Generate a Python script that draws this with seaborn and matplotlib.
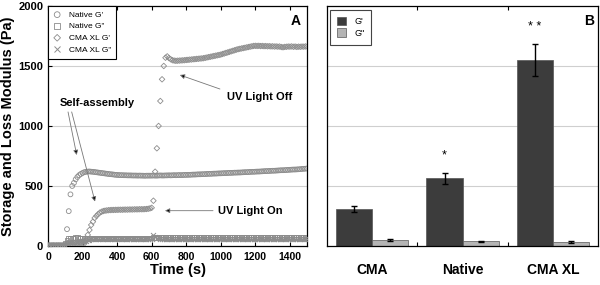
import numpy as np
import pandas as pd
import matplotlib
matplotlib.use("Agg")
import matplotlib.pyplot as plt
import seaborn as sns

# ---- Panel A: time sweep, sampled every 10 s ----
time_s = np.arange(0, 1501, 10)

native_gp = [
    5, 5, 5, 6, 5, 5, 6, 5, 5, 6,
    8, 140, 290, 430, 500, 525, 555, 575, 590, 600,
    608, 615, 618, 620, 621, 619, 618, 616, 614, 612,
    610, 608, 606, 604, 602, 600, 598, 597, 595, 593,
    592, 591, 590, 590, 589, 589, 588, 588, 588, 587,
    587, 587, 586, 587, 586, 586, 585, 586, 586, 586,
    586, 587, 586, 586, 587, 588, 587, 587, 588, 588,
    589, 588, 589, 590, 589, 590, 591, 590, 591, 592,
    592, 593, 593, 594, 595, 595, 596, 597, 597, 598,
    598, 599, 600, 601, 601, 602, 603, 603, 604, 605,
    605, 606, 607, 607, 608, 609, 609, 610, 611, 611,
    612, 612, 613, 614, 615, 615, 616, 617, 618, 618,
    619, 620, 620, 621, 622, 623, 624, 624, 625, 626,
    627, 627, 628, 629, 630, 631, 631, 632, 633, 634,
    635, 636, 637, 637, 638, 639, 640, 642, 643, 644,
    646,
]

native_gpp = [
    4, 3, 4, 3, 4, 3, 4, 3, 4, 3,
    20, 45, 60, 64, 66, 67, 68, 68, 67, 67,
    66, 67, 66, 65, 66, 67, 66, 65, 66, 66,
    65, 66, 67, 66, 65, 66, 65, 66, 67, 66,
    66, 65, 66, 67, 66, 65, 66, 66, 67, 66,
    65, 66, 67, 66, 66, 65, 66, 67, 66, 66,
    67, 68, 67, 68, 69, 68, 69, 70, 69, 70,
    70, 71, 70, 69, 70, 71, 72, 71, 70, 71,
    72, 71, 70, 71, 72, 73, 72, 71, 72, 73,
    72, 71, 72, 73, 72, 73, 74, 73, 72, 73,
    72, 73, 74, 73, 72, 73, 72, 73, 74, 73,
    72, 73, 74, 73, 72, 71, 72, 73, 72, 71,
    72, 73, 72, 71, 72, 73, 72, 71, 72, 71,
    72, 71, 72, 73, 72, 71, 70, 71, 72, 71,
    70, 71, 72, 71, 70, 71, 72, 71, 70, 71,
    71,
]

cmaxl_gp = [
    3, 4, 3, 4, 3, 4, 3, 4, 3, 4,
    6, 10, 12, 13, 14, 14, 15, 15, 16, 16,
    17, 20, 50, 92, 133, 175, 202, 233, 250, 265,
    278, 285, 291, 294, 296, 298, 299, 300, 300, 301,
    301, 302, 302, 302, 303, 303, 303, 304, 304, 304,
    305, 305, 305, 306, 306, 306, 307, 308, 310, 313,
    318, 377, 619, 814, 1000, 1208, 1389, 1500, 1569, 1580,
    1566, 1556, 1548, 1545, 1543, 1544, 1545, 1546, 1547, 1548,
    1550, 1551, 1553, 1554, 1556, 1557, 1559, 1560, 1562, 1563,
    1565, 1568, 1571, 1574, 1577, 1580, 1583, 1586, 1589, 1592,
    1595, 1600, 1604, 1609, 1613, 1618, 1622, 1627, 1631, 1636,
    1640, 1643, 1646, 1649, 1652, 1655, 1658, 1661, 1664, 1667,
    1668, 1667, 1668, 1666, 1667, 1665, 1666, 1664, 1665, 1663,
    1664, 1662, 1663, 1661, 1662, 1658, 1656, 1659, 1660, 1662,
    1661, 1663, 1660, 1662, 1659, 1661, 1660, 1662, 1661, 1663,
    1662,
]

cmaxl_gpp = [
    1, 2, 1, 2, 1, 2, 1, 2, 1, 2,
    8, 22, 30, 33, 35, 36, 37, 37, 38, 38,
    38, 40, 44, 48, 52, 55, 57, 58, 58, 58,
    57, 58, 57, 56, 57, 58, 57, 56, 57, 56,
    57, 56, 57, 58, 57, 56, 57, 56, 57, 58,
    57, 56, 57, 58, 57, 56, 57, 58, 59, 60,
    62, 90, 78, 70, 65, 62, 60, 58, 57, 56,
    55, 56, 55, 54, 55, 56, 55, 54, 55, 56,
    55, 56, 57, 56, 55, 56, 57, 58, 57, 56,
    57, 58, 57, 56, 57, 58, 57, 58, 59, 58,
    57, 58, 59, 58, 57, 58, 59, 58, 57, 58,
    59, 58, 57, 58, 59, 58, 57, 58, 57, 58,
    57, 58, 57, 56, 57, 58, 57, 56, 57, 58,
    57, 56, 57, 58, 57, 56, 57, 58, 57, 56,
    57, 58, 57, 56, 57, 58, 57, 56, 57, 58,
    57,
]

series_labels = ["Native G'", 'Native G"', "CMA XL G'", 'CMA XL G"']
series_markers = ["o", "s", "D", "x"]

# ---- Panel B: bar summary ----
groups = ["CMA", "Native", "CMA XL"]
gp_mean = [310, 565, 1550]
gp_err = [25, 47, 133]
gpp_mean = [50, 40, 32]
gpp_err = [6, 5, 10]
stars = ["", "*", "* *"]

sns.set_style("ticks")
plt.rcParams["font.family"] = ["Liberation Sans", "DejaVu Sans"]
plt.rcParams["text.color"] = "black"
plt.rcParams["axes.labelcolor"] = "black"
plt.rcParams["xtick.color"] = "black"
plt.rcParams["ytick.color"] = "black"

fig = plt.figure(figsize=(6.0, 2.85), dpi=100)
ax_a = fig.add_axes([0.08, 0.137, 0.432, 0.842])
ax_b = fig.add_axes([0.545, 0.137, 0.452, 0.842])

grey = "#8c8c8c"

# Panel A
for label, marker, vals in zip(series_labels, series_markers,
                               [native_gp, native_gpp, cmaxl_gp, cmaxl_gpp]):
    df = pd.DataFrame({"time": time_s, "mod": vals})
    if marker == "x":
        sns.scatterplot(data=df, x="time", y="mod", ax=ax_a, marker=marker,
                        color=grey, s=13, linewidth=0.7, label=label, zorder=3)
    else:
        ms = 8 if marker == "D" else 12
        sns.scatterplot(data=df, x="time", y="mod", ax=ax_a, marker=marker,
                        facecolor="none", edgecolor=grey, s=ms, linewidth=0.6,
                        label=label, zorder=3)

ax_a.set_xlim(0, 1500)
ax_a.set_ylim(0, 2000)
ax_a.set_xticks(range(0, 1401, 200))
ax_a.set_yticks([0, 500, 1000, 1500, 2000])
for yv in [500, 1000, 1500]:
    ax_a.axhline(yv, color="#cfcfcf", lw=0.8, zorder=0)
ax_a.tick_params(direction="in", top=True, right=False, length=3, width=0.8)
ax_a.tick_params(axis="x", labelsize=7.5, pad=4)
ax_a.tick_params(axis="y", labelsize=8)
for t in ax_a.get_xticklabels() + ax_a.get_yticklabels():
    t.set_fontweight("bold")
ax_a.set_xlabel("Time (s)", fontsize=10.5, fontweight="bold", labelpad=1)
ax_a.set_ylabel("Storage and Loss Modulus (Pa)", fontsize=10.5,
                fontweight="bold", labelpad=2)
for sp in ax_a.spines.values():
    sp.set_color("black")
    sp.set_linewidth(0.9)

leg = ax_a.legend(loc="upper left", bbox_to_anchor=(0, 1), borderaxespad=0,
                  fontsize=6, frameon=True, fancybox=False, framealpha=1,
                  edgecolor="black", handlelength=1.0, handletextpad=0.9,
                  borderpad=0.6, labelspacing=0.45, markerscale=1.2)
leg.get_frame().set_linewidth(0.8)

ax_a.text(0.975, 0.965, "A", transform=ax_a.transAxes, ha="right", va="top",
          fontsize=10, fontweight="bold")

arrow_kw = dict(arrowstyle="-|>", ec="#777777", fc="black", lw=0.6,
                mutation_scale=7, shrinkA=0, shrinkB=0)
ax_a.text(283, 1190, "Self-assembly", ha="center", va="center", fontsize=8,
          fontweight="bold")
ax_a.annotate("", xy=(166, 758), xytext=(116, 1117), arrowprops=arrow_kw)
ax_a.annotate("", xy=(272, 370), xytext=(137, 1117), arrowprops=arrow_kw)
ax_a.text(1226, 1241, "UV Light Off", ha="center", va="center", fontsize=8,
          fontweight="bold")
ax_a.annotate("", xy=(763, 1425), xytext=(995, 1308), arrowprops=arrow_kw)
ax_a.text(983, 294, "UV Light On", ha="left", va="center", fontsize=8,
          fontweight="bold")
ax_a.annotate("", xy=(677, 294), xytext=(955, 294), arrowprops=arrow_kw)

# Panel B
bar_df = pd.DataFrame({
    "group": groups * 2,
    "modulus": ["G'"] * 3 + ['G"'] * 3,
    "value": gp_mean + gpp_mean,
})
sns.barplot(data=bar_df, x="group", y="value", hue="modulus", ax=ax_b,
            palette=["#3c3c3c", "#b4b4b4"], width=0.8, errorbar=None,
            edgecolor="#555555", linewidth=0.5, zorder=2)

for cont, errs in zip(ax_b.containers, [gp_err, gpp_err]):
    for bar, err in zip(cont, errs):
        ax_b.errorbar(bar.get_x() + bar.get_width() / 2, bar.get_height(),
                      yerr=err, fmt="none", ecolor="black", elinewidth=1,
                      capsize=2.5, capthick=1, zorder=4)
for bar, err, s in zip(ax_b.containers[0], gp_err, stars):
    if s:
        ax_b.text(bar.get_x() + bar.get_width() / 2,
                  bar.get_height() + err + 90, s, ha="center", va="bottom",
                  fontsize=9)

ax_b.set_ylim(0, 2000)
ax_b.set_xlim(-0.5, 2.5)
ax_b.set_yticks([500, 1000, 1500])
ax_b.set_yticklabels([])
ax_b.tick_params(axis="y", length=0)
for yv in [500, 1000, 1500]:
    ax_b.axhline(yv, color="#cfcfcf", lw=0.8, zorder=0)
ax_b.set_xticks([0, 1, 2])
ax_b.set_xticklabels(groups, fontsize=10, fontweight="bold")
ax_b.set_xticks([0.5, 1.5], minor=True)
ax_b.tick_params(axis="x", which="major", length=0, pad=12)
ax_b.tick_params(axis="x", which="minor", direction="in", top=True,
                 length=3, width=0.8)
ax_b.set_xlabel("")
ax_b.set_ylabel("")
for sp in ax_b.spines.values():
    sp.set_visible(True)
    sp.set_color("black")
    sp.set_linewidth(0.9)

leg_b = ax_b.legend(loc="upper left", bbox_to_anchor=(0.01, 0.985),
                    borderaxespad=0, fontsize=6.5, frameon=True, fancybox=False,
                    framealpha=1, edgecolor="#444444", handlelength=1.0,
                    handleheight=1.1, handletextpad=0.9, borderpad=0.8,
                    labelspacing=0.25)
leg_b.get_frame().set_linewidth(0.8)

ax_b.text(0.985, 0.965, "B", transform=ax_b.transAxes, ha="right", va="top",
          fontsize=10, fontweight="bold")

fig.savefig("out.png", dpi=100)
